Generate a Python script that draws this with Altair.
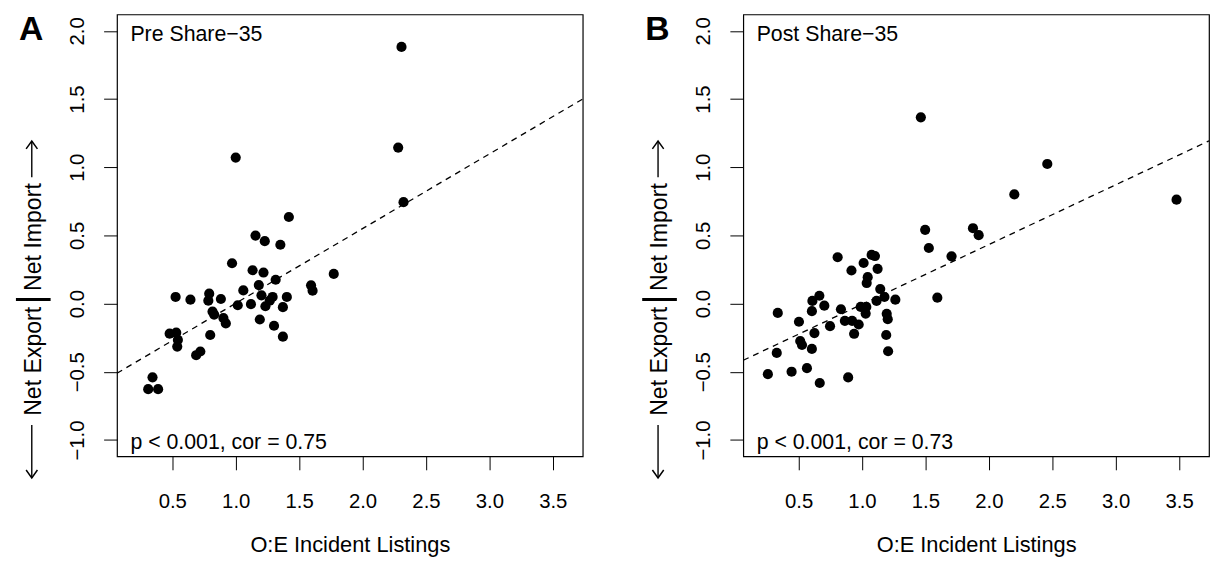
import altair as alt
import pandas as pd

# ---- data ----
pre_x = [2.307, 1.000, 2.281, 2.323, 1.419, 1.156, 1.229, 1.352, 0.971, 1.133,
         1.219, 1.773, 1.315, 1.594, 1.606, 1.182, 1.060, 1.203, 1.291, 1.403,
         0.791, 0.526, 0.643, 0.784, 0.883, 1.016, 1.120, 1.234, 1.268, 1.372,
         0.817, 0.830, 0.903, 0.922, 1.190, 1.302, 1.372, 0.799, 0.479, 0.531,
         0.544, 0.539, 0.688, 0.721, 0.344, 0.310, 0.388]
pre_y = [1.882, 1.071, 1.144, 0.744, 0.635, 0.499, 0.458, 0.432, 0.296, 0.245,
         0.228, 0.218, 0.175, 0.134, 0.095, 0.136, 0.097, 0.061, 0.049, 0.049,
         0.073, 0.049, 0.029, 0.022, 0.034, -0.012, -0.004, -0.019, 0.022, -0.026,
         -0.058, -0.080, -0.106, -0.145, -0.116, -0.162, -0.242, -0.230, -0.220, -0.213,
         -0.266, -0.315, -0.378, -0.351, -0.540, -0.627, -0.627]

post_x = [1.464, 2.461, 2.201, 3.480, 1.498, 1.875, 1.920, 1.527, 1.706, 0.808,
          1.013, 1.076, 1.102, 0.917, 1.123, 1.045, 1.037, 1.144, 1.177, 1.263,
          1.115, 1.594, 0.664, 0.609, 0.703, 0.605, 0.336, 0.834, 0.990, 1.034,
          1.029, 1.195, 1.203, 0.503, 0.748, 0.865, 0.922, 0.974, 0.938, 0.625,
          1.191, 0.513, 0.527, 0.605, 1.206, 0.328, 0.566, 0.445, 0.258, 0.891,
          0.667]
post_y = [1.366, 1.024, 0.801, 0.762, 0.541, 0.553, 0.502, 0.408, 0.347, 0.340,
          0.298, 0.357, 0.349, 0.243, 0.255, 0.194, 0.151, 0.107, 0.049, 0.029,
          0.020, 0.044, 0.058, 0.020, -0.015, -0.055, -0.068, -0.041, -0.024, -0.024,
          -0.073, -0.075, -0.114, -0.133, -0.165, -0.126, -0.126, -0.153, -0.221, -0.216,
          -0.230, -0.274, -0.303, -0.332, -0.349, -0.361, -0.473, -0.499, -0.517, -0.541,
          -0.582]

# regression lines (intercept, slope)
fit_pre = [-0.545, 0.5475]
fit_post = [-0.443, 0.438]

x_ticks = [0.5, 1.0, 1.5, 2.0, 2.5, 3.0, 3.5]
y_ticks = [-1.0, -0.5, 0.0, 0.5, 1.0, 1.5, 2.0]
x_domain = [0.064, 3.736]
y_domain = [-1.12, 2.12]

panel_letters = ["A", "B"]
panel_titles = ["Pre Share\u221235", "Post Share\u221235"]
panel_stats = ["p < 0.001, cor = 0.75", "p < 0.001, cor = 0.73"]
x_title = "O:E Incident Listings"
y_title_low = "Net Export"
y_title_high = "Net Import"

FONT = "Liberation Sans"
W, H = 470, 446


def one(text):
    return pd.DataFrame({"t": [text]})


def panel(xs, ys, fit, letter, title, stat):
    df = pd.DataFrame({"x": xs, "y": ys})
    line_df = pd.DataFrame({"x": x_domain,
                            "y": [fit[0] + fit[1] * v for v in x_domain]})
    xsc = alt.Scale(domain=x_domain, nice=False, zero=False)
    ysc = alt.Scale(domain=y_domain, nice=False, zero=False)
    xax = alt.Axis(values=x_ticks, format=".1f", title=x_title, grid=False,
                   domain=False, tickSize=13.5, tickColor="black", tickWidth=1,
                   labelColor="black", labelFontSize=20.5, labelFont=FONT,
                   labelPadding=22, labelFlush=False, labelOverlap=False,
                   titleFontSize=22, titleFont=FONT, titleFontWeight="normal",
                   titleColor="black", titleY=96, titleBaseline="alphabetic")
    yax = alt.Axis(values=y_ticks, format=".1f", title=None, grid=False,
                   domain=False, tickSize=13.5, tickColor="black", tickWidth=1,
                   labelColor="black", labelFontSize=20.5, labelFont=FONT,
                   labelAngle=270, labelAlign="center", labelBaseline="alphabetic",
                   labelPadding=20.5, labelFlush=False, labelOverlap=False)

    pts = alt.Chart(df).mark_circle(size=105, color="black", opacity=1).encode(
        x=alt.X("x:Q", scale=xsc, axis=xax),
        y=alt.Y("y:Q", scale=ysc, axis=yax),
    )
    line = alt.Chart(line_df).mark_line(color="black", strokeWidth=1.3,
                                        strokeDash=[6, 5], clip=True).encode(
        x=alt.X("x:Q", scale=xsc), y=alt.Y("y:Q", scale=ysc))

    base_txt = dict(font=FONT, fontSize=21.5, color="black")
    t_title = alt.Chart(one(title)).mark_text(
        align="left", baseline="alphabetic", **base_txt).encode(
        text="t:N", x=alt.value(13.5), y=alt.value(27))
    t_stat = alt.Chart(one(stat)).mark_text(
        align="left", baseline="alphabetic", **base_txt).encode(
        text="t:N", x=alt.value(13.5), y=alt.value(438.5))
    t_letter = alt.Chart(one(letter)).mark_text(
        align="left", baseline="alphabetic", font=FONT, fontSize=34,
        fontWeight="bold", color="black").encode(
        text="t:N", x=alt.value(-99), y=alt.value(25.5))

    # rotated y-axis title:  <-- Net Export | Net Import -->
    ytxt = dict(font=FONT, fontSize=23.3, color="black", angle=270,
                baseline="alphabetic")
    t_low = alt.Chart(one(y_title_low)).mark_text(align="right", **ytxt).encode(
        text="t:N", x=alt.value(-76.7), y=alt.value(295))
    t_high = alt.Chart(one(y_title_high)).mark_text(align="left", **ytxt).encode(
        text="t:N", x=alt.value(-76.7), y=alt.value(279))
    bar = alt.Chart(one("|")).mark_rule(color="black", strokeWidth=3).encode(
        x=alt.value(-102), x2=alt.value(-67), y=alt.value(287.7))
    shaft_up = alt.Chart(one("up")).mark_rule(color="black", strokeWidth=1.4).encode(
        x=alt.value(-86), y=alt.value(128), y2=alt.value(164.3))
    shaft_dn = alt.Chart(one("down")).mark_rule(color="black", strokeWidth=1.4).encode(
        x=alt.value(-86), y=alt.value(414.3), y2=alt.value(467.5))
    head_up = alt.Chart(one("up")).mark_point(
        shape="M-1,1.4L0,0L1,1.4", filled=False, size=130, strokeWidth=1.5,
        color="black", opacity=1).encode(x=alt.value(-86), y=alt.value(127.7))
    head_dn = alt.Chart(one("down")).mark_point(
        shape="M-1,-1.4L0,0L1,-1.4", filled=False, size=130, strokeWidth=1.5,
        color="black", opacity=1).encode(x=alt.value(-86), y=alt.value(467.7))

    return alt.layer(line, pts, t_title, t_stat, t_letter, t_low, t_high, bar,
                     shaft_up, shaft_dn, head_up, head_dn).properties(width=W, height=H)


chart = alt.hconcat(
    panel(pre_x, pre_y, fit_pre, panel_letters[0], panel_titles[0], panel_stats[0]),
    panel(post_x, post_y, fit_post, panel_letters[1], panel_titles[1], panel_stats[1]),
    spacing=56,
).properties(
    padding={"left": 5, "top": 1, "right": 0, "bottom": 0},
    background="white",
).configure_view(stroke="black", strokeWidth=1.2)

chart.save("out.html", embed_options={"renderer": "svg", "actions": False})
